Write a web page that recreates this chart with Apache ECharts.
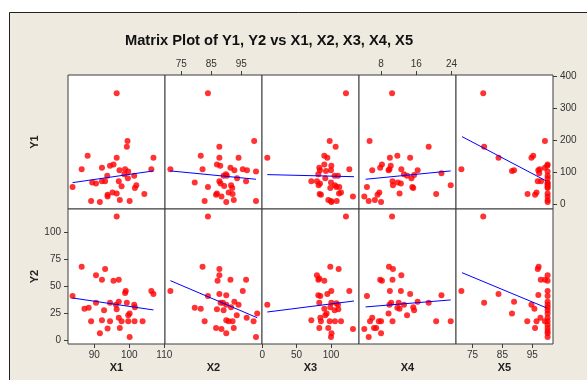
<!DOCTYPE html>
<html>
<head>
<meta charset="utf-8">
<script src="https://cdn.jsdelivr.net/npm/echarts@6/dist/echarts.min.js"></script>
<style>
  html, body { margin: 0; padding: 0; background: #fff; }
  #chart { width: 587px; height: 380px; }
</style>
</head>
<body>
<div id="chart"></div>
<script>
const xNames = ['X1', 'X2', 'X3', 'X4', 'X5'];
const yNames = ['Y1', 'Y2'];
const xRanges = [[82.5, 110.2], [69.6, 101.9], [-0.4, 140.8], [3.0, 25.0], [69.5, 101.9]];
const yRanges = [[-14.7, 403], [-3.7, 121.6]];
const xTicks = [[90, 100, 110], [75, 85, 95], [0, 50, 100], [8, 16, 24], [75, 85, 95]];
const yTicks = [[0, 100, 200, 300, 400], [0, 25, 50, 75, 100]];
// row that carries the x tick labels (0 = top, 1 = bottom)
const xTickRow = [1, 0, 1, 0, 1];

// points read per panel: [x, y]
const y1x1 = [[96.4,346],[99.5,197],[99.3,179],[88.1,151],[96.4,145],[106.9,145],[86.4,109],[92.2,114],[94.5,120],[95.5,124],[97.2,106],[98.8,109],[99.7,102],[98.6,94],[106.3,109],[93.7,89],[101.4,89],[99.6,81],[89.4,68],[90.5,65],[92.2,72],[93.1,72],[97,72],[97.8,56],[83.8,54],[102,59],[101.6,51],[95.2,37],[96.4,34],[93.8,30],[93.8,24],[104.3,32],[89.1,10],[91.6,7],[97.3,13],[100.1,10]];
const y1x2 = [[83.9,346],[99.3,197],[87.7,179],[81.5,151],[87.7,145],[94.1,145],[71.4,109],[82.1,109],[86.9,124],[88,120],[91.4,114],[92.7,106],[95.5,109],[96.9,106],[99.9,102],[89.1,89],[89.9,94],[90.2,89],[93.6,81],[96.6,72],[79.5,68],[87.7,72],[88.1,65],[83.9,54],[91.6,59],[92,51],[90.8,37],[92.1,32],[86.9,34],[86.6,30],[88.4,24],[82.8,10],[90,7],[92.5,13],[99.9,10],[89.3,57]];
const y1x3 = [[121.8,346],[98.1,197],[106.8,179],[7.3,145],[90.3,151],[94.7,145],[90.3,124],[83,114],[100.5,120],[84,106],[92.7,104],[100,106],[126.7,109],[81.6,94],[105.3,89],[110.2,89],[91.7,81],[71.4,72],[79.6,72],[84,65],[100,68],[82,59],[107.8,54],[105.8,59],[112.1,54],[99,51],[114.6,37],[111.7,34],[85.4,30],[83.5,32],[132,24],[96.1,13],[100.8,7],[108.3,10],[100,10]];
const y1x4 = [[10.5,346],[5.4,197],[18.8,179],[10,145],[11.7,151],[14.6,145],[7.8,114],[8.2,124],[10.2,120],[6,106],[9.7,106],[9.9,109],[12.6,109],[16.3,106],[13.2,94],[13.9,89],[15.5,91],[21.7,97],[14.9,81],[10.6,72],[11.8,68],[12.5,65],[4.8,54],[10.7,59],[15.1,54],[15.3,51],[23.8,59],[12.2,34],[7.6,37],[7.2,30],[20.5,32],[4.2,24],[5.2,10],[6.6,13],[8,7]];
const y1x5 = [[78.6,346],[99.2,197],[78.9,179],[83.7,145],[94.7,145],[95.3,151],[71.3,109],[88.2,104],[88.9,106],[97,106],[97.5,109],[97.3,97],[99.2,114],[100,120],[100.1,124],[96.8,72],[97.9,72],[100.1,89],[100.1,81],[100.1,68],[100.1,59],[100.1,54],[100.1,51],[93.4,32],[95.9,30],[96.4,37],[100.1,34],[100.1,24],[100.1,13],[100.1,7],[100.1,102],[100.1,65]];
const y2x1 = [[96.4,114.6],[86.4,68],[93.1,66],[90.5,60],[92.2,56],[95.5,55],[97,56],[99,45.5],[98.8,43.7],[106.3,45.5],[106.9,42.7],[83.8,40.9],[90.5,34.7],[94.5,34.7],[97,35.6],[96.2,32.8],[99.3,34.7],[101.4,32.8],[101.6,30.3],[87.2,29.1],[88.4,30],[92.8,27.6],[96.4,28.5],[99.7,22.9],[100.1,24.5],[97,20.7],[92.2,18.3],[89.1,17.3],[94.5,17.3],[97.8,17.3],[99.7,17.3],[101.5,17.3],[103.8,17.3],[93.8,10.6],[97.3,11.1],[91.6,6.2],[100.1,2.8]];
const y2x2 = [[83.9,114.6],[82.1,68],[87.7,66],[87.7,60],[87.1,55],[91.4,56],[96.6,56],[71.4,45.5],[95.5,45.5],[87.7,42.7],[90,41.5],[83.9,40.9],[92.7,35.6],[94.1,32.8],[88.1,34.7],[88.9,34.7],[90,32.8],[79.5,30],[81.5,29.1],[86.9,28.5],[89.1,27.6],[91.6,30.3],[100.3,24.5],[93.5,22.9],[96.8,20.7],[82.8,17.3],[90,18.3],[90.8,17.3],[92.1,17.3],[99.1,17.3],[86.6,11.1],[88.4,10.2],[92.5,11.1],[90,6.2],[99.9,2.8]];
const y2x3 = [[121.8,114.6],[99,68],[111.2,66],[79.6,60],[81.6,56],[83,57],[90.3,55],[100.5,45.5],[126.7,45.5],[81.6,41.5],[84.5,40.9],[94.7,42.7],[7.3,32.8],[83,34.7],[100.5,34.7],[107.8,34.1],[110.2,32.8],[99,30.3],[90.3,29.1],[105.3,27.6],[110.7,28.5],[93.7,24.5],[91.7,22.9],[71.4,18.3],[84.5,20.7],[85.4,17.3],[98.1,17.3],[105.8,17.3],[114.6,17.3],[83,11.1],[96.1,11.1],[132,10.2],[100.8,6.2],[100,2.8]];
const y2x4 = [[10.5,114.6],[9.8,68],[10.7,66],[7.8,56],[8.2,55],[10.6,56],[12.6,60],[10,45.5],[12.5,45.5],[14.6,42.7],[21.7,41.5],[4.8,40.9],[10.3,34.7],[12,34.7],[13.2,32.8],[16.3,35.6],[18.8,34.7],[9.9,32.8],[11.7,30],[12.2,29.1],[15.3,30.3],[15.5,27.6],[9.7,24.5],[13.9,22.9],[6,20.7],[5.5,17.3],[7.5,17.3],[8,17.3],[10.6,17.3],[20.5,17.3],[23.8,17.3],[6.4,11.1],[6.9,11.1],[4.2,10.2],[8,6.2],[5.2,2.8]];
const y2x5 = [[78.6,114.6],[96.8,66],[97.1,68],[97.8,56],[99.2,56],[100.1,60],[100.1,55],[71.3,45.5],[83.7,42.7],[100.1,45.5],[100.1,40.9],[97,41.8],[78.9,34.7],[88.9,35.6],[94.7,32.8],[100.1,35.6],[100.1,32.8],[95.7,29.1],[100.1,30.3],[100.1,27.6],[88.2,24.5],[100.1,24.5],[97.7,20.7],[100.1,20.7],[93.3,17.3],[96.4,17.3],[99.2,17.3],[100.1,17.3],[95.9,11.1],[100.1,14.2],[100.1,11.1],[100.1,8.4],[100.1,6.2],[100.1,2.8]];

// fitted regression lines per column: [xStart, yStart, xEnd, yEnd]
const fitY1 = [[83.8,67.5,106.9,104],[71.4,104,99.9,78],[7.3,92.5,133.5,86],[4.5,78,23.8,104],[71.5,211,99.6,73]];
const fitY2 = [[83.8,39,106.9,27.9],[71.4,55.1,100.3,20.7],[7.3,26,133.5,36.2],[4.5,30.7,23.8,37.2],[71.5,62.5,99.6,30]];

const panels = [[y1x1, y1x2, y1x3, y1x4, y1x5], [y2x1, y2x2, y2x3, y2x4, y2x5]];
const fits = [fitY1, fitY2];

const font = 'Liberation Sans';
const frame = '#3c3c3c';
const grids = [], xAxes = [], yAxes = [], series = [];

for (let r = 0; r < 2; r++) {
  for (let c = 0; c < 5; c++) {
    const g = r * 5 + c;
    grids.push({
      left: 68 + 97 * c, top: r === 0 ? 75 : 209, width: 97, height: r === 0 ? 134 : 135,
      show: true, backgroundColor: '#fff', borderColor: frame, borderWidth: 1
    });
    const showX = xTickRow[c] === r;
    xAxes.push({
      type: 'value', gridIndex: g, min: xRanges[c][0], max: xRanges[c][1],
      position: r === 0 ? 'top' : 'bottom',
      axisLine: { show: false, onZero: false },
      splitLine: { show: false },
      axisTick: { show: showX, customValues: xTicks[c], length: 4, lineStyle: { color: frame } },
      axisLabel: { show: showX, customValues: xTicks[c], margin: 6, color: '#333', fontSize: 10, fontFamily: font },
      name: r === 1 ? xNames[c] : '', nameLocation: 'middle', nameGap: 18,
      nameTextStyle: { fontFamily: font, fontWeight: 'bold', fontSize: 11, color: '#222' }
    });
    const showY = (r === 0 && c === 4) || (r === 1 && c === 0);
    yAxes.push({
      type: 'value', gridIndex: g, min: yRanges[r][0], max: yRanges[r][1],
      position: c === 4 ? 'right' : 'left',
      axisLine: { show: false, onZero: false },
      splitLine: { show: false },
      axisTick: { show: showY, customValues: yTicks[r], length: 4, lineStyle: { color: frame } },
      axisLabel: { show: showY, customValues: yTicks[r], margin: 7, color: '#333', fontSize: 10, fontFamily: font },
      name: c === 0 ? yNames[r] : '', nameLocation: 'middle', nameGap: 28, nameRotate: 90,
      nameTextStyle: { fontFamily: font, fontWeight: 'bold', fontSize: 11, color: '#222' }
    });
    series.push({
      type: 'scatter', xAxisIndex: g, yAxisIndex: g, data: panels[r][c],
      symbolSize: 6, itemStyle: { color: '#ff0000' }, silent: true
    });
    const f = fits[r][c];
    series.push({
      type: 'line', xAxisIndex: g, yAxisIndex: g, data: [[f[0], f[1]], [f[2], f[3]]],
      showSymbol: false, lineStyle: { color: '#0000ff', width: 1 }, silent: true, z: 3
    });
  }
}

const chart = echarts.init(document.getElementById('chart'), null, { renderer: 'canvas' });
chart.setOption({
  animation: false,
  backgroundColor: '#eeeae0',
  title: {
    text: 'Matrix Plot of Y1, Y2 vs X1, X2, X3, X4, X5',
    left: 264, top: 28, textAlign: 'center',
    textStyle: { fontFamily: font, fontWeight: 'bold', fontSize: 14.7, color: '#111' }
  },
  graphic: [
    { type: 'rect', shape: { x: 0, y: 0, width: 587, height: 12 }, style: { fill: '#fff' } },
    { type: 'rect', shape: { x: 0, y: 0, width: 9, height: 380 }, style: { fill: '#fff' } },
    { type: 'line', shape: { x1: 9.5, y1: 12.5, x2: 587, y2: 12.5 }, style: { stroke: '#222', lineWidth: 1 } },
    { type: 'line', shape: { x1: 9.5, y1: 12.5, x2: 9.5, y2: 380 }, style: { stroke: '#222', lineWidth: 1 } }
  ],
  grid: grids,
  xAxis: xAxes,
  yAxis: yAxes,
  series: series
});
</script>
</body>
</html>
